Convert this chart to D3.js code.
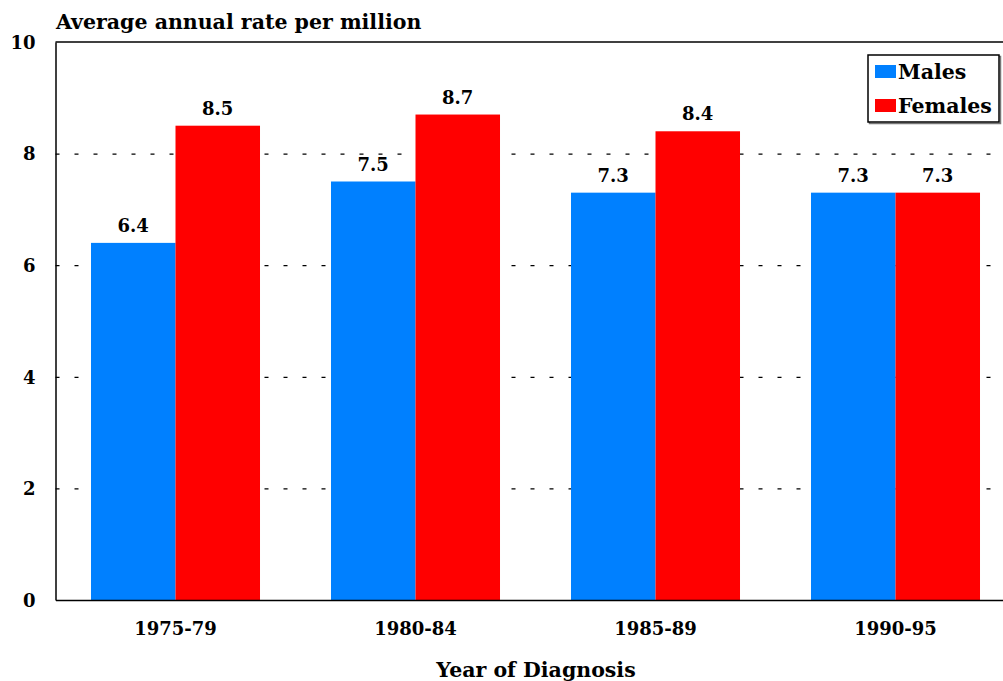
<!DOCTYPE html>
<html>
<head>
<meta charset="utf-8">
<script src="https://cdn.jsdelivr.net/npm/d3@7"></script>
<style>
  html, body { margin: 0; padding: 0; background: #fff; overflow: hidden; }
  text { font-family: "DejaVu Serif", "Liberation Serif", serif; font-weight: bold; fill: #000; }
</style>
</head>
<body>
<svg id="chart" width="1003" height="681"></svg>
<script>
// Average annual incidence rate per million, by period of diagnosis and sex
const periods = ["1975-79", "1980-84", "1985-89", "1990-95"];
const seriesNames = ["Males", "Females"];
const males = [6.4, 7.5, 7.3, 7.3];
const females = [8.5, 8.7, 8.4, 7.3];
const yTicks = [0, 2, 4, 6, 8, 10];
const colors = ["#0080ff", "#ff0000"];

const rows = periods.map((p, i) => ({ period: p, values: [males[i], females[i]] }));

const svg = d3.select("#chart");
const plotLeft = 55.5, plotRight = 1015.5, plotTop = 42, plotBottom = 600;
const wordSize = "20.5px";   // titles and legend
const numberSize = "18px";   // ticks and value labels

const x0 = d3.scaleBand().domain(periods).range([plotLeft, plotRight]).padding(0);
const x1 = d3.scaleBand().domain(seriesNames).range([0, x0.bandwidth()])
  .paddingInner(0).paddingOuter(0.42);
const y = d3.scaleLinear().domain([0, 10]).range([plotBottom, plotTop]);
const color = d3.scaleOrdinal().domain(seriesNames).range(colors);

// dashed horizontal gridlines
const grid = svg.append("g")
  .attr("transform", `translate(${plotLeft},0)`)
  .call(d3.axisRight(y).tickValues(yTicks.filter(v => v > 0 && v < 10))
    .tickSize(plotRight - plotLeft).tickFormat(""));
grid.select(".domain").remove();
grid.selectAll("line")
  .attr("stroke", "#000").attr("stroke-width", 1.2)
  .attr("stroke-dasharray", "4,15");

// bars
const groups = svg.append("g").selectAll("g")
  .data(rows).join("g")
  .attr("transform", d => `translate(${x0(d.period)},0)`);

groups.selectAll("rect")
  .data(d => d.values.map((v, k) => ({ key: seriesNames[k], value: v })))
  .join("rect")
  .attr("x", d => x1(d.key))
  .attr("width", x1.bandwidth())
  .attr("y", d => y(d.value))
  .attr("height", d => y(0) - y(d.value))
  .attr("fill", d => color(d.key));

groups.selectAll("text.val")
  .data(d => d.values.map((v, k) => ({ key: seriesNames[k], value: v })))
  .join("text")
  .attr("class", "val")
  .attr("x", d => x1(d.key) + x1.bandwidth() / 2)
  .attr("y", d => y(d.value) - 11)
  .attr("text-anchor", "middle")
  .style("font-size", numberSize)
  .text(d => d.value.toFixed(1));

// frame: top line, left axis, bottom axis
svg.append("line").attr("x1", plotLeft).attr("x2", plotRight).attr("y1", plotTop).attr("y2", plotTop)
  .attr("stroke", "#000").attr("stroke-width", 1.5);

const yAxis = svg.append("g")
  .attr("transform", `translate(${plotLeft},0)`)
  .call(d3.axisLeft(y).tickValues(yTicks).tickSize(0).tickPadding(20).tickFormat(d3.format("d")));
yAxis.select(".domain").attr("stroke", "#000").attr("stroke-width", 1.5);
yAxis.selectAll("text").style("font-size", numberSize).attr("dy", "0.35em");

const xAxis = svg.append("g")
  .attr("transform", `translate(0,${plotBottom})`)
  .call(d3.axisBottom(x0).tickSize(0).tickPadding(22));
xAxis.select(".domain").attr("stroke", "#000").attr("stroke-width", 1.5);
xAxis.selectAll("text").style("font-size", numberSize);

// titles
svg.append("text").attr("x", 56).attr("y", 29)
  .style("font-size", wordSize).text("Average annual rate per million");
svg.append("text").attr("x", 536).attr("y", 677).attr("text-anchor", "middle")
  .style("font-size", wordSize).text("Year of Diagnosis");

// legend
const legend = svg.append("g").attr("transform", "translate(868,55)");
legend.append("rect").attr("x", 1.5).attr("y", 1.5).attr("width", 131).attr("height", 67)
  .attr("fill", "none").attr("stroke", "#777").attr("stroke-width", 1.5);
legend.append("rect").attr("width", 131).attr("height", 67)
  .attr("fill", "#fff").attr("stroke", "#000").attr("stroke-width", 1.5);
seriesNames.forEach((name, i) => {
  legend.append("rect").attr("x", 7).attr("y", 10 + i * 34).attr("width", 21).attr("height", 13)
    .attr("fill", color(name));
  legend.append("text").attr("x", 30).attr("y", 24 + i * 34)
    .style("font-size", wordSize).text(name);
});
</script>
</body>
</html>
